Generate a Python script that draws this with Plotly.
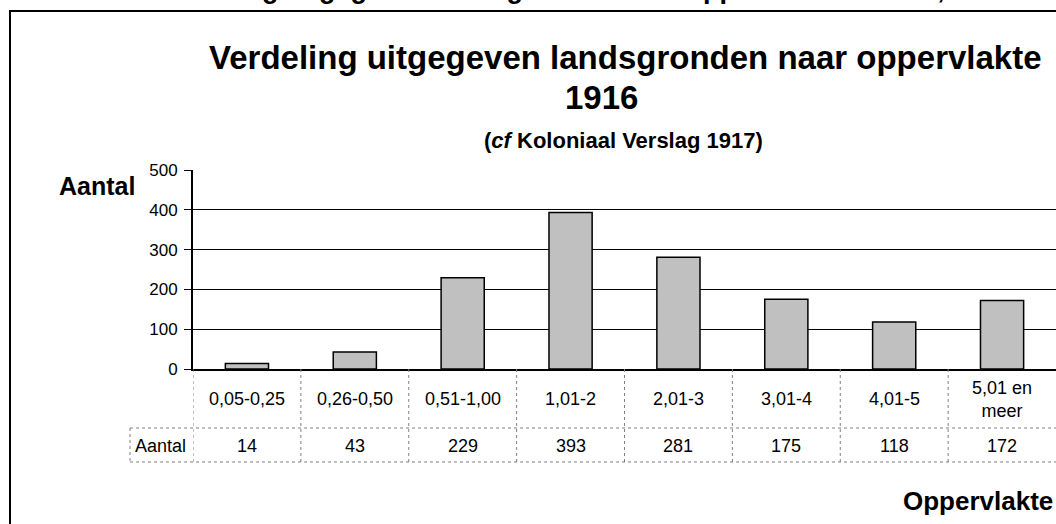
import plotly.graph_objects as go

# ----------------------------------
# Data
# ----------------------------------

categories = ["0,05-0,25", "0,26-0,50", "0,51-1,00", "1,01-2",
              "2,01-3", "3,01-4", "4,01-5", "5,01 en<br>meer"]
aantal = [14, 43, 229, 393, 281, 175, 118, 172]
y_ticks = [0, 100, 200, 300, 400, 500]

FONT = "Liberation Sans, Arial, sans-serif"

# pixel -> paper helpers (plot area 193..1056 x 170..369)
L, R, T, B = 193, 1056, 170, 369


def px(x):
    return (x - L) / (R - L)


def py(y):
    return (B - y) / (B - T)


fig = go.Figure()

fig.add_trace(go.Bar(
    x=categories,
    y=aantal,
    width=0.4,
    marker=dict(color="#C0C0C0", line=dict(color="black", width=1.5)),
    hoverinfo="x+y",
))

# ----------------------------------
# Titles
# ----------------------------------

ann = []


def text(x, y, s, size, bold=False, xanchor="center", yanchor="middle", xref="paper"):
    ann.append(dict(
        x=x, y=y, xref=xref, yref="paper", text=f"<b>{s}</b>" if bold else s,
        showarrow=False, xanchor=xanchor, yanchor=yanchor,
        font=dict(family=FONT, size=size, color="black"),
    ))


# bottom of the previous chart's title, cut off by the page edge
text(px(155), py(6), "Verdeling uitgegeven landsgronden naar oppervlakte in 1916,",
     27, bold=True, xanchor="left", yanchor="bottom")

text(px(625), py(57), "Verdeling uitgegeven landsgronden naar oppervlakte", 33, bold=True)
text(px(601), py(97), "1916", 33, bold=True)
text(px(623), py(140), "(<i>cf</i> Koloniaal Verslag 1917)", 22, bold=True)
text(px(97), py(186), "Aantal", 25, bold=True)
text(px(1055), py(501), "Oppervlakte", 26, bold=True, xanchor="right")

# ----------------------------------
# Data table under the axis
# ----------------------------------

for cat, val in zip(categories, aantal):
    text(cat, py(399), cat, 18, xref="x")
    text(cat, py(446), str(val), 18, xref="x")
text(px(133), py(446), "Aantal", 18, xanchor="left")

table_line = dict(color="#808080", width=1, dash="dot")
shapes = []
for i in range(len(categories)):
    shapes.append(dict(type="line", xref="x", yref="paper",
                       x0=i - 0.5, x1=i - 0.5, y0=py(369), y1=py(462),
                       line=table_line))
for yy in (428, 462):
    shapes.append(dict(type="line", xref="paper", yref="paper",
                       x0=px(130), x1=px(1060), y0=py(yy), y1=py(yy),
                       line=table_line))
shapes.append(dict(type="line", xref="paper", yref="paper",
                   x0=px(130), x1=px(130), y0=py(428), y1=py(462),
                   line=table_line))

# outer frame of the chart object
shapes.append(dict(type="rect", xref="paper", yref="paper",
                   x0=px(10), x1=px(1070), y0=py(11), y1=py(540),
                   line=dict(color="black", width=2)))

fig.update_layout(
    width=1056,
    height=524,
    margin=dict(l=L, r=1056 - R, t=T, b=524 - B),
    paper_bgcolor="white",
    plot_bgcolor="white",
    showlegend=False,
    bargap=0.6,
    annotations=ann,
    shapes=shapes,
    font=dict(family=FONT, color="black"),
)

fig.update_xaxes(
    type="category",
    range=[-0.5, 7.5],
    showticklabels=False,
    ticks="",
    showgrid=False,
    showline=True,
    linecolor="black",
    linewidth=2,
)

fig.update_yaxes(
    range=[0, 500],
    tickvals=y_ticks,
    showgrid=True,
    gridcolor="black",
    gridwidth=1,
    zeroline=False,
    showline=True,
    linecolor="black",
    linewidth=2,
    ticks="outside",
    ticklen=7,
    tickwidth=1,
    tickcolor="black",
    ticklabelstandoff=3,
    tickfont=dict(family=FONT, size=17, color="black"),
)

# the page has a default 8px body margin; drop it so the figure fills the window
fig.write_html(
    "out.html",
    config={"displayModeBar": False},
    post_script="document.body.style.margin='0';",
)
